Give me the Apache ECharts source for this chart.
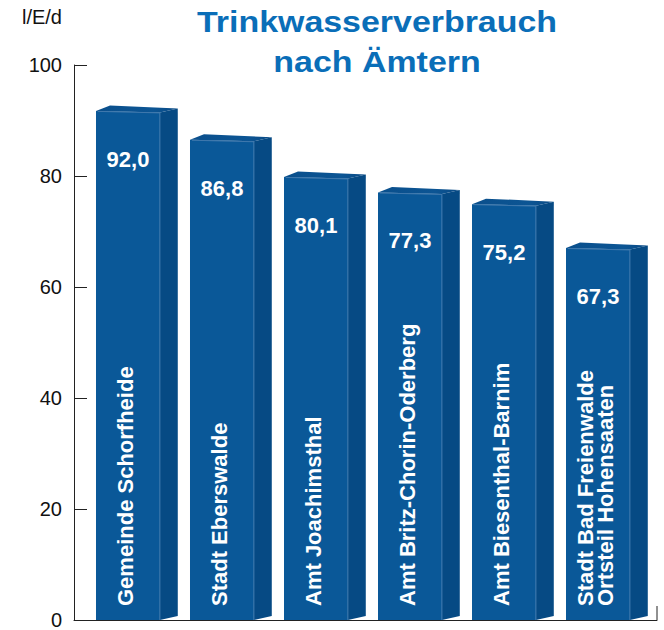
<!DOCTYPE html>
<html>
<head>
<meta charset="utf-8">
<script src="https://cdn.jsdelivr.net/npm/echarts@6/dist/echarts.min.js"></script>
<style>html,body{margin:0;padding:0;background:#fff}#c{width:664px;height:630px}</style>
</head>
<body>
<div id="c"></div>
<script>
const categories = [
  "Gemeinde Schorfheide",
  "Stadt Eberswalde",
  "Amt Joachimsthal",
  "Amt Britz-Chorin-Oderberg",
  "Amt Biesenthal-Barnim",
  "Stadt Bad Freienwalde\nOrtsteil Hohensaaten"
];
const values = [92.0, 86.8, 80.1, 77.3, 75.2, 67.3];
const valueLabels = ["92,0", "86,8", "80,1", "77,3", "75,2", "67,3"];
const titleText = "Trinkwasserverbrauch\nnach Ämtern";
const unitText = "l/E/d";

const FONT = "'Liberation Sans', Arial, sans-serif";
const chart = echarts.init(document.getElementById('c'), null, {renderer: 'svg'});

function renderItem(params, api) {
  const i = api.value(0), v = api.value(1);
  const top = api.coord([i, v]);
  const base = api.coord([i, 0]);
  const u = api.size([1, 0])[0];
  const fw = u * 0.68, sd = u * 0.19;
  const xl = top[0] - fw / 2, xr = top[0] + fw / 2;
  const vy = top[1], yb = base[1];
  const children = [
    { type: 'polygon', shape: { points: [[xr, vy + 3], [xr + sd, vy - 1], [xr + sd, yb - 4], [xr, yb]] },
      style: { fill: '#064a84' } },
    { type: 'polygon', shape: { points: [[xl, vy + 1.5], [xl + 14, vy - 4], [xr + sd, vy - 1], [xr, vy + 3]] },
      style: { fill: { type: 'linear', x: 0, y: 0, x2: 1, y2: 0, colorStops: [
        { offset: 0, color: '#0a4f8c' }, { offset: 0.7, color: '#0c5594' }, { offset: 1, color: '#0a4a85' }] } } },
    { type: 'polygon', shape: { points: [[xl, vy + 1.5], [xr, vy + 3], [xr, yb], [xl, yb]] },
      style: { fill: '#0a5898' } },
    { type: 'line', shape: { x1: xr, y1: vy + 3, x2: xr, y2: yb }, style: { stroke: '#3f78ad', lineWidth: 1 } },
    { type: 'line', shape: { x1: xl + 2, y1: vy + 2, x2: xr, y2: vy + 3.5 }, style: { stroke: '#3f78ad', lineWidth: 1 } },
    { type: 'text', x: top[0], y: vy + 50,
      style: { text: valueLabels[params.dataIndex], fill: '#fff', font: 'bold 22px ' + FONT,
               align: 'center', verticalAlign: 'middle' } },
    { type: 'text', x: top[0] - 2, y: yb - 14, rotation: Math.PI / 2,
      style: { text: categories[params.dataIndex], fill: '#fff', font: 'bold 22px ' + FONT,
               align: 'left', verticalAlign: 'middle', lineHeight: 20 } }
  ];
  return { type: 'group', children };
}

const data = values.map((v, i) => [i, v]);

chart.setOption({
  animation: false,
  grid: { left: 74, right: 7, top: 65, bottom: 8 },
  xAxis: {
    type: 'value', min: -0.574, max: 5.628,
    axisLine: { show: true, onZero: false, lineStyle: { color: '#222', width: 1 } },
    axisTick: { show: false }, axisLabel: { show: false }, splitLine: { show: false }
  },
  yAxis: {
    type: 'value', min: 0, max: 100, interval: 20,
    name: unitText, nameLocation: 'end', nameGap: 38,
    nameTextStyle: { fontFamily: FONT, fontSize: 20, color: '#111', align: 'right', padding: [0, 12, 0, 0] },
    axisLine: { show: true, onZero: false, lineStyle: { color: '#222', width: 1 } },
    axisTick: { show: true, inside: true, length: 13, lineStyle: { color: '#222' } },
    axisLabel: { fontFamily: FONT, fontSize: 20, color: '#111', margin: 12 },
    splitLine: { show: false }
  },
  series: [{
    type: 'custom', renderItem, data, clip: false,
    encode: { x: 0, y: 1 }
  }]
});

const pEnd = chart.convertToPixel({ gridIndex: 0 }, [5.628, 0]);
chart.setOption({
  graphic: [
    { type: 'line', shape: { x1: pEnd[0], y1: pEnd[1], x2: pEnd[0], y2: pEnd[1] - 14 },
      style: { stroke: '#222', lineWidth: 1 } },
    { type: 'text', x: 377, y: 2, scaleX: 1.17, scaleY: 1,
      style: { text: titleText, fill: '#0a6eb8', font: 'bold 29px ' + FONT,
               align: 'center', verticalAlign: 'top', lineHeight: 40 } }
  ]
});
</script>
</body>
</html>
